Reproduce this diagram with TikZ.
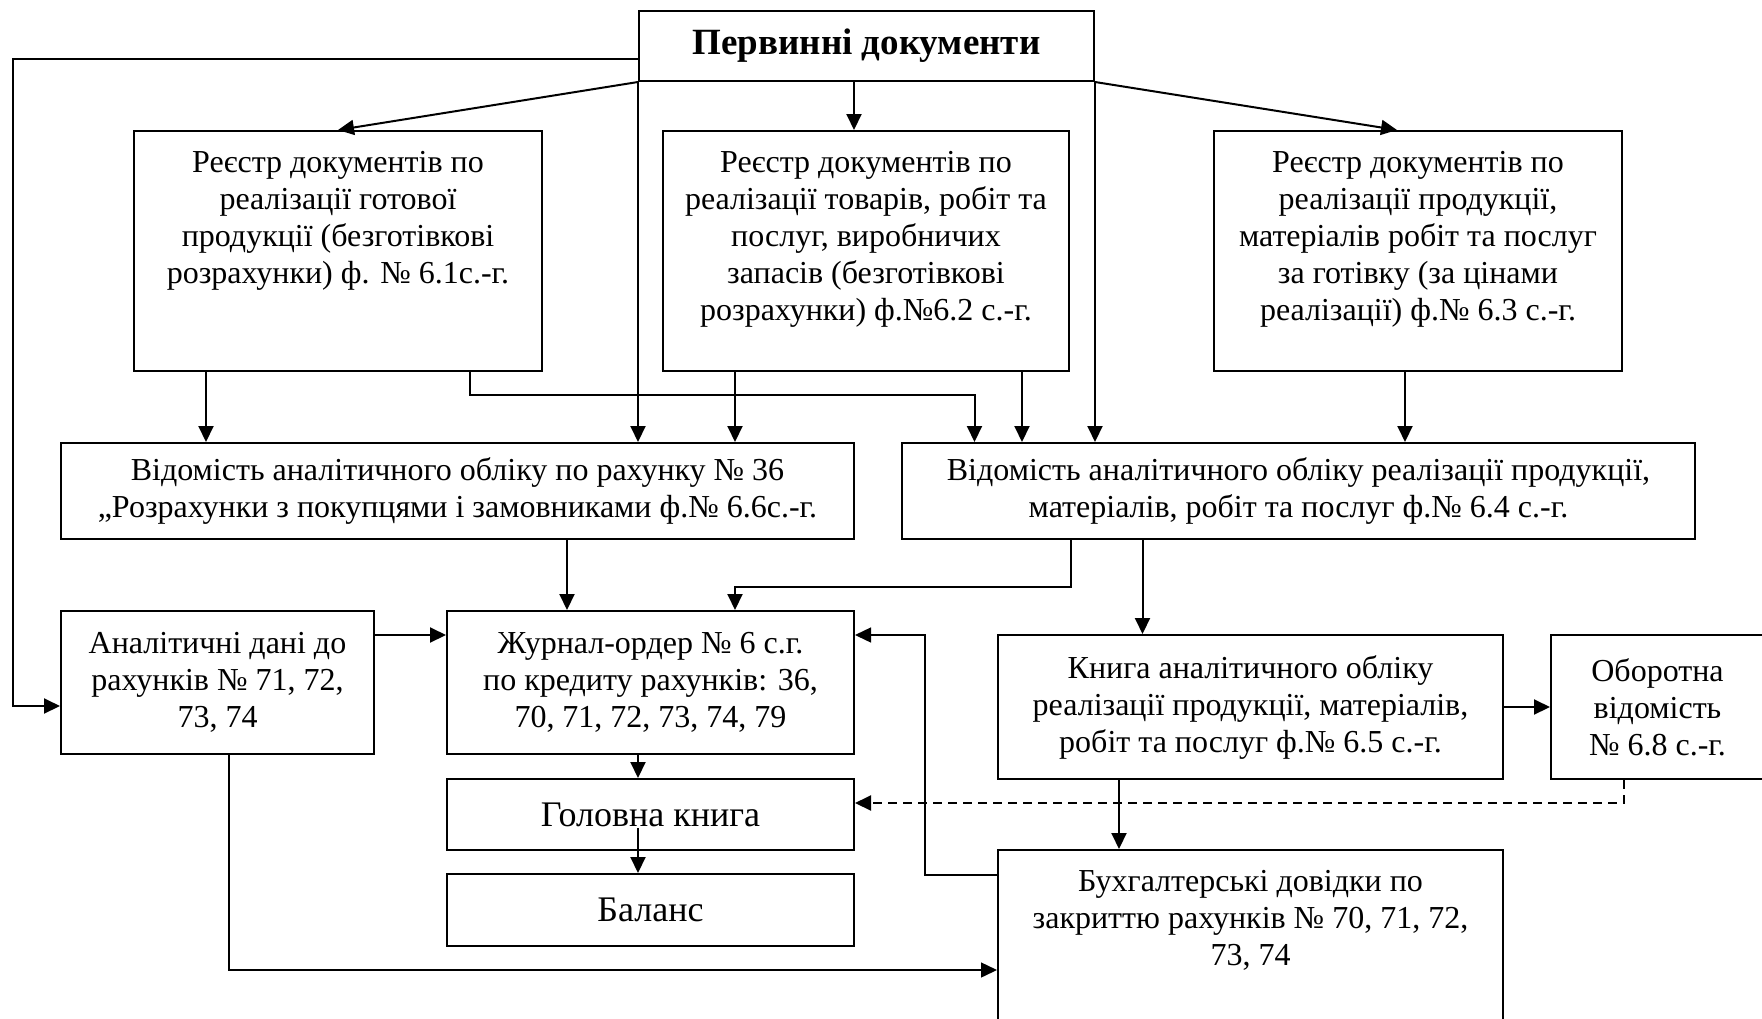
\documentclass[tikz,border=0pt]{standalone}
\usepackage{fontspec}
\setmainfont{Liberation Serif}
\usetikzlibrary{arrows.meta,calc}
\newcommand{\topcell}[3]{\parbox[c][#1][t]{#2}{\centering #3}}
\tikzset{
  box/.style={draw, line width=2pt, inner sep=4pt, align=center, font=\fontsize{32}{37}\selectfont},
  regbox/.style={box, inner ysep=20pt},
  bigbox/.style={box, font=\fontsize{36}{41}\selectfont},
  titlebox/.style={box, font=\fontsize{37}{42}\selectfont\bfseries},
  arr/.style={-{Triangle[length=16pt,width=15pt]}, line width=2pt},
  thinarr/.style={arr, line width=1.4pt},
  dasharr/.style={arr, dash pattern=on 9pt off 6pt}
}

\begin{document}
\begin{tikzpicture}[x=1pt,y=-1pt]
  \useasboundingbox (0,0) rectangle (1762,1018);

  \node[titlebox, minimum width=455pt, minimum height=70pt] (prim) at (866.5,46) {Первинні документи};

  \node[regbox, minimum width=408pt, minimum height=240pt] (reg1) at (338,251)
    {\topcell{200pt}{400pt}{Реєстр документів по\\ реалізації готової\\ продукції (безготівкові\\ розрахунки) ф. № 6.1с.-г.}};
  \node[regbox, minimum width=406pt, minimum height=240pt] (reg2) at (866,251)
    {\topcell{200pt}{398pt}{Реєстр документів по\\ реалізації товарів, робіт та\\ послуг, виробничих\\ запасів (безготівкові\\ розрахунки) ф.№6.2 с.-г.}};
  \node[regbox, minimum width=408pt, minimum height=240pt] (reg3) at (1418,251)
    {\topcell{200pt}{400pt}{Реєстр документів по\\ реалізації продукції,\\ матеріалів робіт та послуг\\ за готівку (за цінами\\ реалізації) ф.№ 6.3 с.-г.}};

  \node[box, minimum width=793pt, minimum height=96pt] (ved36) at (457.5,491)
    {Відомість аналітичного обліку по рахунку № 36\\ „Розрахунки з покупцями і замовниками ф.№ 6.6с.-г.};
  \node[box, minimum width=793pt, minimum height=96pt] (ved64) at (1298.5,491)
    {Відомість аналітичного обліку реалізації продукції,\\ матеріалів, робіт та послуг ф.№ 6.4 с.-г.};

  \node[box, minimum width=313pt, minimum height=143pt] (anal) at (217.5,682.5)
    {Аналітичні дані до\\ рахунків № 71, 72,\\ 73, 74};
  \node[box, minimum width=407pt, minimum height=143pt] (journ) at (650.5,682.5)
    {Журнал-ордер № 6 с.г.\\ по кредиту рахунків: 36,\\ 70, 71, 72, 73, 74, 79};
  \node[bigbox, minimum width=407pt, minimum height=71pt] (glav) at (650.5,814.5) {Головна книга};
  \node[bigbox, minimum width=407pt, minimum height=72pt] (bal) at (650.5,910) {Баланс};

  \node[box, minimum width=505pt, minimum height=144pt] (book) at (1250.5,707)
    {Книга аналітичного обліку\\ реалізації продукції, матеріалів,\\ робіт та послуг ф.№ 6.5 с.-г.};
  \node[box, minimum width=213pt, minimum height=144pt] (obor) at (1657.5,707)
    {Оборотна\\ відомість\\ № 6.8 с.-г.};
  \node[regbox, minimum width=505pt, minimum height=172pt] (buh) at (1250.5,936)
    {\topcell{132pt}{497pt}{Бухгалтерські довідки по\\ закриттю рахунків № 70, 71, 72,\\ 73, 74}};

  % from the primary documents
  \draw[arr] ([yshift=-13pt]prim.west) -- ++(-625,0) |- ([yshift=-23.5pt]anal.west);
  \draw[arr] (prim.south west) -- (reg1.north);
  \draw[arr] ([xshift=-12.5pt]prim.south) -- ([xshift=-12.5pt]prim.south |- reg2.north);
  \draw[arr] (prim.south east) -- ([xshift=-21pt]reg3.north);
  \draw[arr] (prim.south west) -- (prim.south west |- ved36.north);
  \draw[arr] (prim.south east) -- (prim.south east |- ved64.north);

  % registers to the statements
  \draw[arr] ([xshift=-132pt]reg1.south) -- ([xshift=-132pt]reg1.south |- ved36.north);
  \draw[arr] ([xshift=-131pt]reg2.south) -- ([xshift=-131pt]reg2.south |- ved36.north);
  \draw[arr] ([xshift=132pt]reg1.south) -- ++(0,23) -| ([xshift=-324pt]ved64.north);
  \draw[arr] ([xshift=156pt]reg2.south) -- ([xshift=156pt]reg2.south |- ved64.north);
  \draw[arr] ([xshift=-13pt]reg3.south) -- ([xshift=-13pt]reg3.south |- ved64.north);

  % statements to the journal and the book
  \draw[arr] ([xshift=109.5pt]ved36.south) -- ([xshift=109.5pt]ved36.south |- journ.north);
  \draw[arr] ([xshift=-227.5pt]ved64.south) -- ++(0,47) -| ([xshift=84.5pt]journ.north);
  \draw[arr] ([xshift=-156pt]ved64.south) -- ([xshift=-156pt]ved64.south |- book.north);

  \draw[arr] ([yshift=47.5pt]anal.east) -- ([yshift=47.5pt]anal.east -| journ.west);
  \draw[arr] ([xshift=-12.5pt]journ.south) -- ([xshift=-12.5pt]journ.south |- glav.north);
  \draw[arr] ([xshift=-12.5pt,yshift=23pt]glav.south) -- ([xshift=-12.5pt]glav.south |- bal.north);
  \draw[thinarr] ([xshift=11.5pt]anal.south) |- ([yshift=-34pt]buh.west);
  \draw[thinarr] ([yshift=61pt]buh.west) -- ++(-72,0) |- ([yshift=47.5pt]journ.east);
  \draw[arr] (book.east) -- (obor.west);
  \draw[dasharr] ([xshift=-34pt]obor.south) |- ([yshift=11.5pt]glav.east);
  \draw[arr] ([xshift=-131.5pt]book.south) -- ([xshift=-131.5pt]book.south |- buh.north);
\end{tikzpicture}
\end{document}
